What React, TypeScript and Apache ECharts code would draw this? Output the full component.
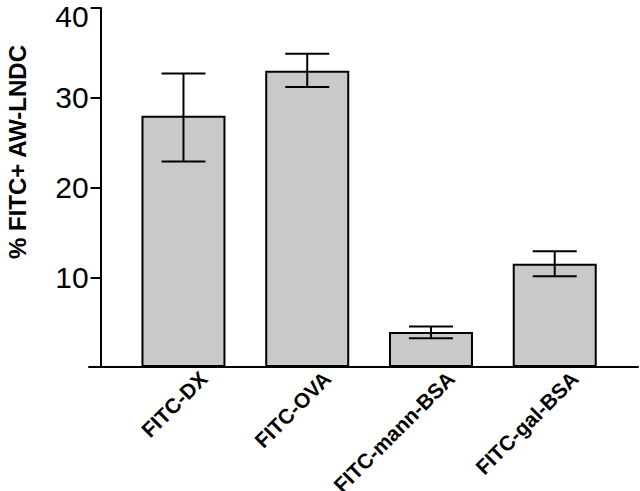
import React, { useEffect, useRef } from "react";
import * as echarts from "echarts";

const categories = ["FITC-DX", "FITC-OVA", "FITC-mann-BSA", "FITC-gal-BSA"];
const means = [28, 33.0, 3.9, 11.5];
const errLow = [22.9, 31.2, 3.2, 10.1];
const errHigh = [32.7, 34.9, 4.5, 12.9];
const yTicks = [0, 10, 20, 30, 40];
const yTitle = "% FITC+ AW-LNDC";

const FONT = "'Liberation Sans', Arial, Helvetica, sans-serif";

export default function App() {
  const ref = useRef<HTMLDivElement>(null);
  useEffect(() => {
    document.body.style.margin = "0";
    if (!ref.current) return;
    const chart = echarts.init(ref.current, undefined, { renderer: "svg" });
    const errData = categories.map((_, i) => [i, errLow[i], errHigh[i]]);
    const top = 8;
    const bottom = 124;
    const g = { top, bottom, outerBoundsMode: "none", containLabel: false };
    const yMin = yTicks[0];
    const yMax = yTicks[yTicks.length - 1];
    const innerTicks = yTicks.filter((v) => v !== yMin && v !== yMax);
    chart.setOption({
      animation: false,
      backgroundColor: "#ffffff",
      grid: [
        { left: 121.6, right: 23.4, ...g },
        { left: 141.6, right: 3.4, ...g },
        { left: 89, right: 2, ...g },
      ],
      xAxis: [
        {
          type: "category",
          gridIndex: 0,
          data: categories,
          axisLine: { show: false },
          axisTick: { show: false },
          axisLabel: { show: false },
        },
        {
          type: "category",
          gridIndex: 1,
          data: categories,
          axisLine: { show: false },
          axisTick: { show: false },
          axisLabel: {
            rotate: 45,
            margin: 8,
            interval: 0,
            overflow: "none",
            hideOverlap: false,
            color: "#000",
            fontFamily: FONT,
            fontWeight: "bold",
            fontSize: 21,
          },
        },
        {
          type: "value",
          gridIndex: 2,
          min: 0,
          max: 1,
          axisLine: { show: true, lineStyle: { color: "#000", width: 2 } },
          axisTick: { show: false },
          axisLabel: { show: false },
          splitLine: { show: false },
        },
      ],
      yAxis: [
        {
          type: "value",
          gridIndex: 0,
          position: "left",
          min: yMin,
          max: yMax,
          interval: 10,
          offset: 21,
          axisLine: { show: true, lineStyle: { color: "#000", width: 2 } },
          axisTick: {
            show: true,
            length: 10,
            lineStyle: { color: "#000", width: 2 },
            customValues: yTicks.filter((v) => v !== yMin),
          },
          axisLabel: {
            margin: 12,
            color: "#000",
            fontFamily: FONT,
            fontSize: 30,
            customValues: innerTicks,
          },
          splitLine: { show: false },
        },
        {
          type: "value",
          gridIndex: 0,
          position: "left",
          min: yMin,
          max: yMax,
          interval: 10,
          offset: 21,
          axisLine: { show: false },
          axisTick: { show: false },
          axisLabel: {
            margin: 12,
            color: "#000",
            fontFamily: FONT,
            fontSize: 30,
            lineHeight: 16,
            verticalAlign: "top",
            customValues: [yMax],
          },
          splitLine: { show: false },
        },
        { type: "value", gridIndex: 1, show: false },
        { type: "value", gridIndex: 2, show: false },
      ],
      graphic: [
        {
          type: "text",
          x: 17,
          y: 152,
          rotation: Math.PI / 2,
          style: {
            text: yTitle,
            fontFamily: FONT,
            fontWeight: "bold",
            fontSize: 24,
            fill: "#000",
            align: "center",
            verticalAlign: "middle",
          },
        },
      ],
      series: [
        {
          type: "bar",
          xAxisIndex: 0,
          yAxisIndex: 0,
          data: means,
          barWidth: 84,
          itemStyle: { color: "#c9c9c9", borderColor: "#000", borderWidth: 2 },
          z: 3,
        },
        {
          type: "custom",
          xAxisIndex: 0,
          yAxisIndex: 0,
          data: errData,
          z: 4,
          renderItem: (params: any, api: any) => {
            const x = api.value(0);
            const lo = api.coord([x, api.value(1)]);
            const hi = api.coord([x, api.value(2)]);
            const hw = 22;
            const style = { stroke: "#000", lineWidth: 2 };
            return {
              type: "group",
              children: [
                { type: "line", shape: { x1: hi[0], y1: hi[1], x2: lo[0], y2: lo[1] }, style },
                { type: "line", shape: { x1: hi[0] - hw, y1: hi[1], x2: hi[0] + hw, y2: hi[1] }, style },
                { type: "line", shape: { x1: lo[0] - hw, y1: lo[1], x2: lo[0] + hw, y2: lo[1] }, style },
              ],
            };
          },
        },
      ],
    });
    return () => chart.dispose();
  }, []);
  return <div ref={ref} style={{ width: 640, height: 491 }} />;
}
